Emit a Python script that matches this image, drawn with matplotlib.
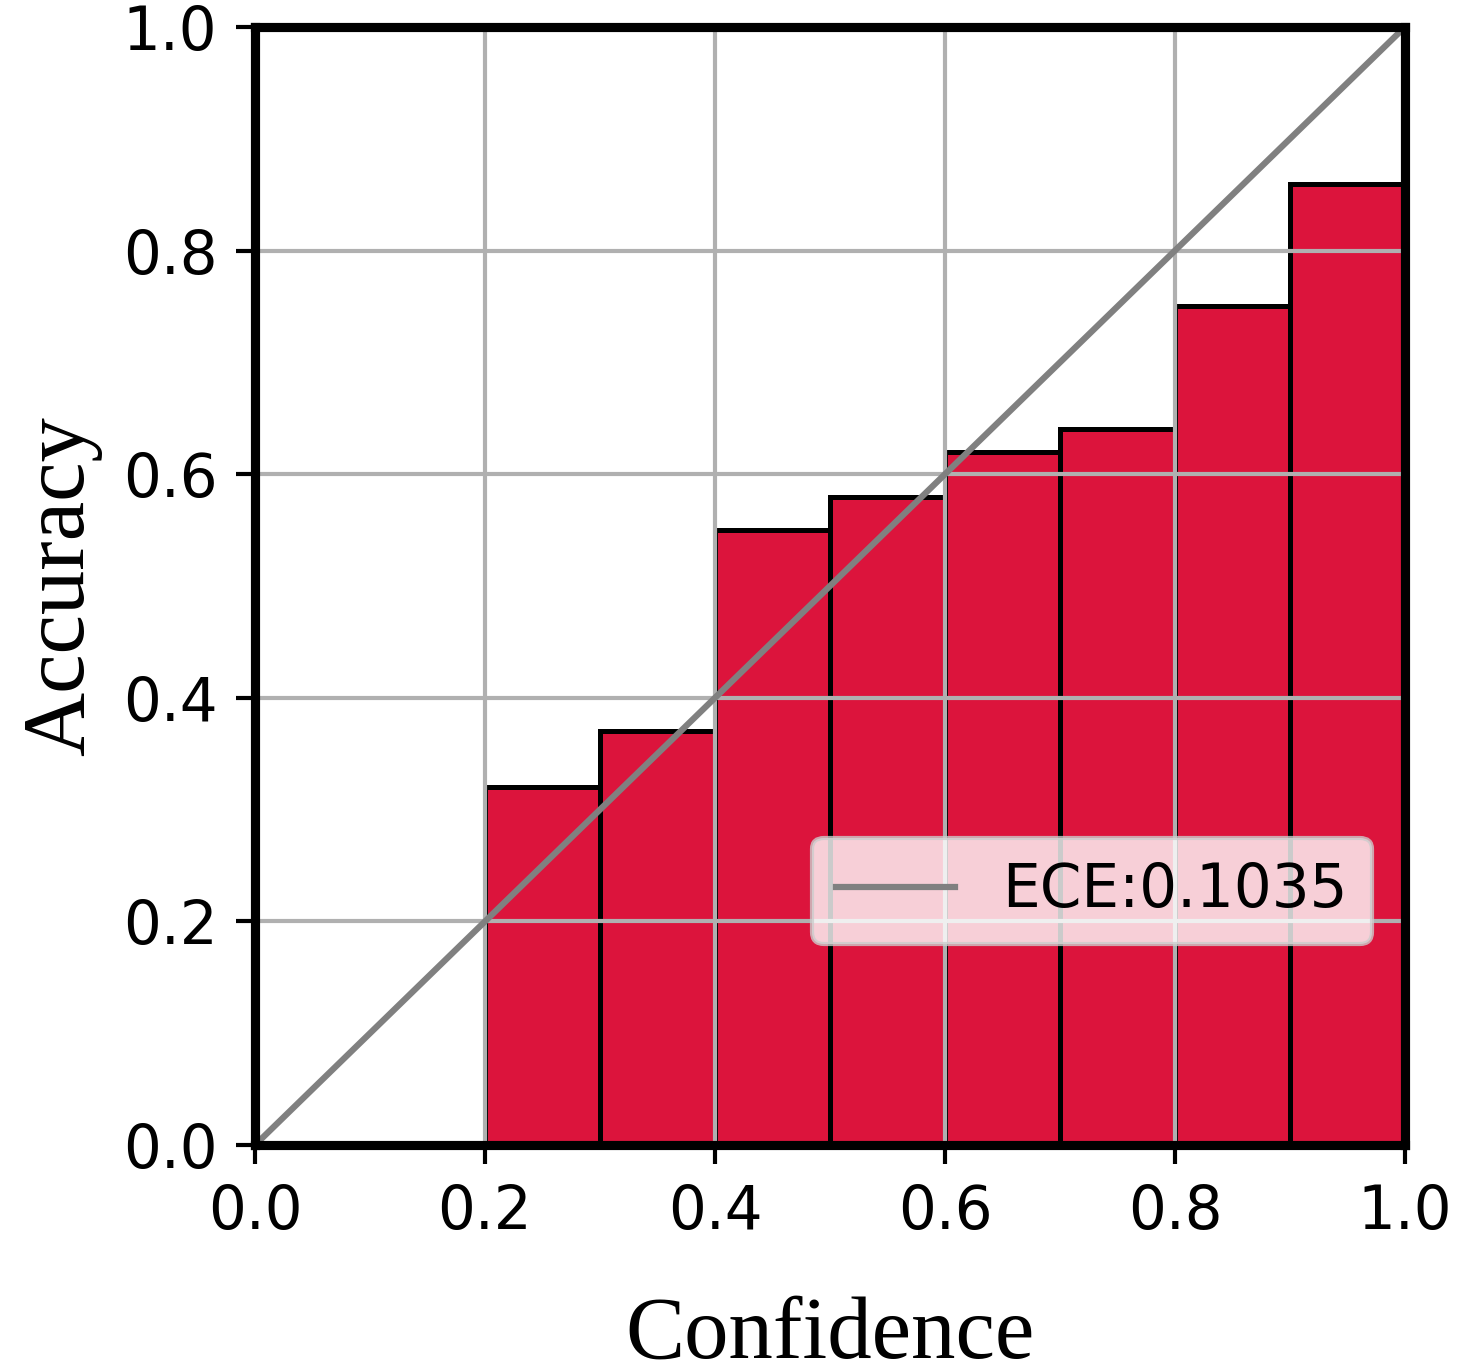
#!/usr/bin/env python3
# -*- coding: utf-8 -*-

import numpy as np
import matplotlib
matplotlib.use("Agg")
import matplotlib.pyplot as plt

plt.rcParams['font.size'] = 14.3
plt.rcParams['axes.linewidth'] = 2.2

# reliability diagram data (bins of width 0.1)
bin_left = [0.2, 0.3, 0.4, 0.5, 0.6, 0.7, 0.8, 0.9]
accuracy = [0.32, 0.37, 0.55, 0.58, 0.62, 0.64, 0.75, 0.86]
bin_width = 0.1
ece_label = "ECE:0.1035"
ticks = [0.0, 0.2, 0.4, 0.6, 0.8, 1.0]


def main():
    fig = plt.figure(figsize=(4.86, 4.5667), dpi=300)
    ax = fig.add_axes([0.1749, 0.1642, 0.7887, 0.8161])

    ax.bar(bin_left, accuracy, width=bin_width, align="edge",
           color="crimson", edgecolor="black", linewidth=1.2)
    ax.plot([0, 1], [0, 1], color="gray", linewidth=1.5, label=ece_label)

    ax.set_xlim(0, 1)
    ax.set_ylim(0, 1)
    ax.set_xticks(ticks)
    ax.set_yticks(ticks)
    # grid above the bars, below the diagonal and spines
    ax.grid(True, color="#b0b0b0", linewidth=1.0)
    ax.set_axisbelow("line")
    ax.tick_params(length=4.5, width=1.0, pad=4.5)

    serif = ["Liberation Serif", "DejaVu Serif"]
    ax.set_xlabel("Confidence", fontsize=21.3, family=serif, labelpad=13)
    ax.set_ylabel("Accuracy", fontsize=21.3, family=serif, labelpad=5)

    ax.legend(loc="lower right", bbox_to_anchor=(0.997, 0.153), fontsize=14.3)

    fig.savefig("out.png", dpi=300)


if __name__ == "__main__":
    main()
